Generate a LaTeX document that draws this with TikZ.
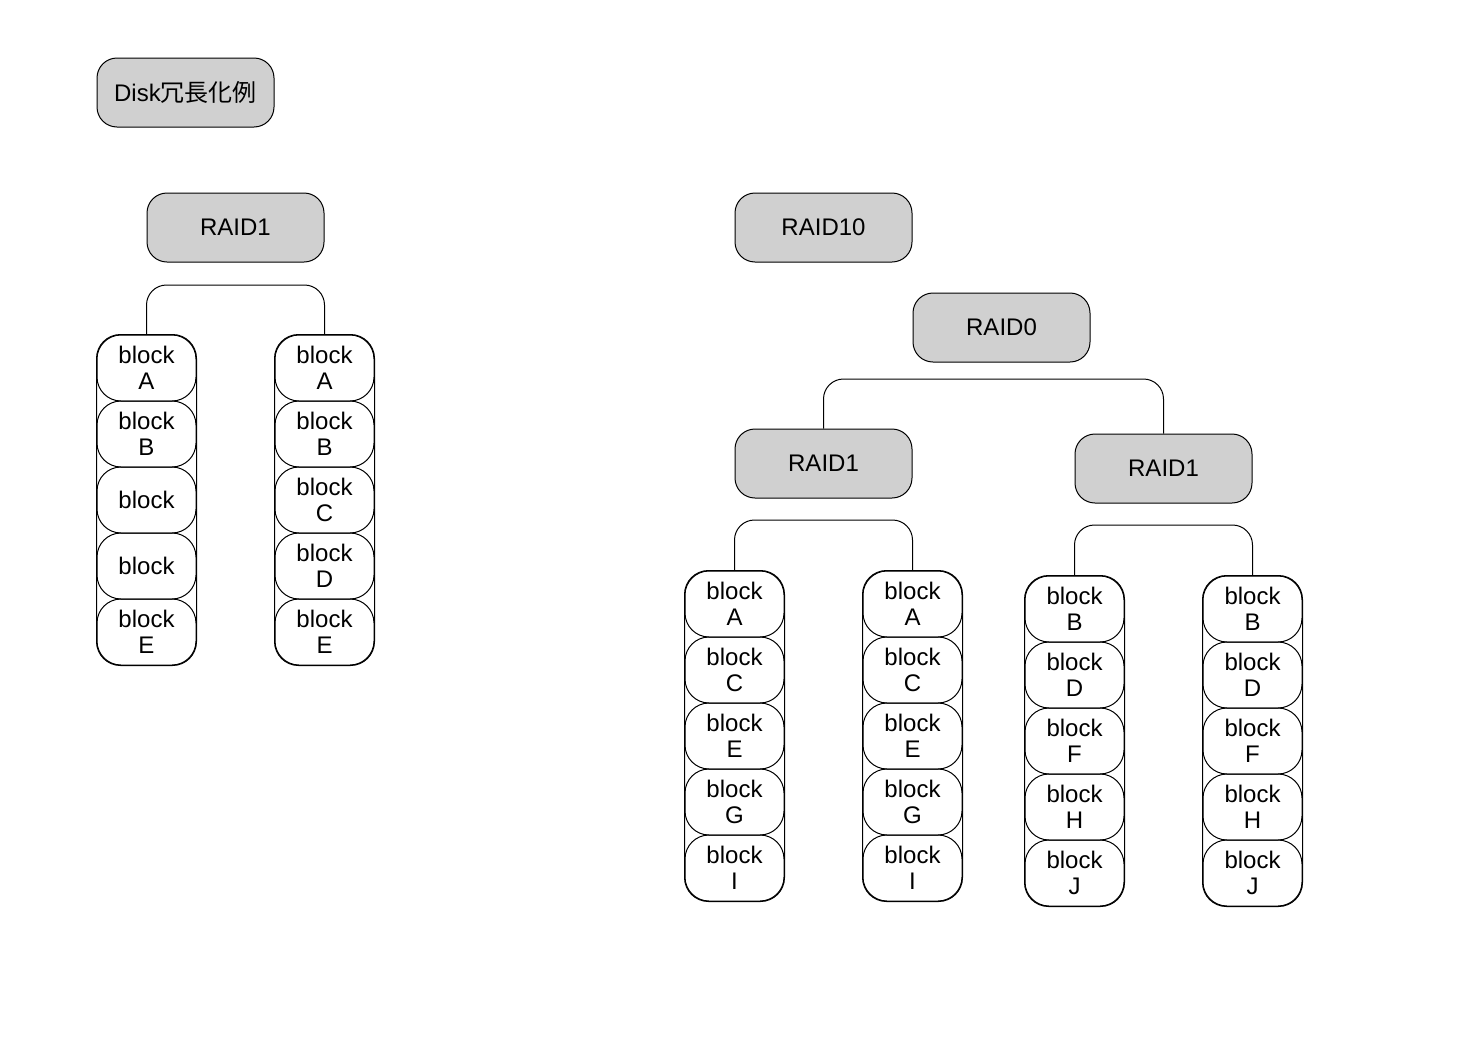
\documentclass[tikz,border=0pt]{standalone}
\usepackage{fontspec}
\setmainfont{Liberation Sans}
\newfontfamily\cjk{Noto Sans CJK JP}
\usetikzlibrary{positioning}
\definecolor{boxgray}{RGB}{208,208,208}
\begin{document}
\begin{tikzpicture}[x=0.5pt,y=-0.5pt,
  every node/.style={font=\fontsize{12}{13}\selectfont},
  label box/.style={draw, line width=0.5pt, fill=boxgray, rounded corners=10pt,
    minimum width=88.5pt, minimum height=34.5pt, inner sep=0pt},
  blk/.style={draw, line width=0.5pt, rounded corners=12pt, align=center,
    minimum width=49.5pt, minimum height=33pt, inner sep=0pt},
  disk/.style={draw, line width=0.5pt, rounded corners=12pt},
  conn/.style={draw, line width=0.5pt, rounded corners=10pt}]
\useasboundingbox (0,0) rectangle (1472,1050);

% title
\node[label box] (title) at (185.5,92.5) {Disk{\cjk 冗長化例}};

% ---------- RAID1 ----------
\node[label box] (raidL) at (235.5,227.5) {RAID1};

% disk columns: name prefix, x centre, top y, list of labels
\newcommand{\diskcol}[4]{%
  \foreach \lab [count=\i] in {#4} {
    \node[blk] (#1\i) at (#2,{#3+33+66*(\i-1)}) {\lab};
  }
  \draw[disk] (#11.north west) rectangle (#15.south east);
}

\diskcol{la}{146.5}{335}{{block\\A},{block\\B},{block},{block},{block\\E}}
\diskcol{lb}{324.5}{335}{{block\\A},{block\\B},{block\\C},{block\\D},{block\\E}}
\coordinate (barL) at (235.5,285);
\draw[conn] (la1.north) |- (barL) -| (lb1.north);

% ---------- RAID10 ----------
\node[label box] (raid10) at (823.5,227.5) {RAID10};
\node[label box] (raid0) at (1001.5,327.5) {RAID0};
\node[label box] (r1a) at (823.5,463.5) {RAID1};
\node[label box] (r1b) at (1163.5,468.5) {RAID1};
\coordinate (bar0) at (993,379);
\draw[conn] (r1a.north) |- (bar0) -| (r1b.north);

\diskcol{aa}{734.5}{571}{{block\\A},{block\\C},{block\\E},{block\\G},{block\\I}}
\diskcol{ab}{912.5}{571}{{block\\A},{block\\C},{block\\E},{block\\G},{block\\I}}
\coordinate (barA) at (823.5,520);
\draw[conn] (aa1.north) |- (barA) -| (ab1.north);

\diskcol{ba}{1074.5}{576}{{block\\B},{block\\D},{block\\F},{block\\H},{block\\J}}
\diskcol{bb}{1252.5}{576}{{block\\B},{block\\D},{block\\F},{block\\H},{block\\J}}
\coordinate (barB) at (1163.5,525);
\draw[conn] (ba1.north) |- (barB) -| (bb1.north);
\end{tikzpicture}
\end{document}
